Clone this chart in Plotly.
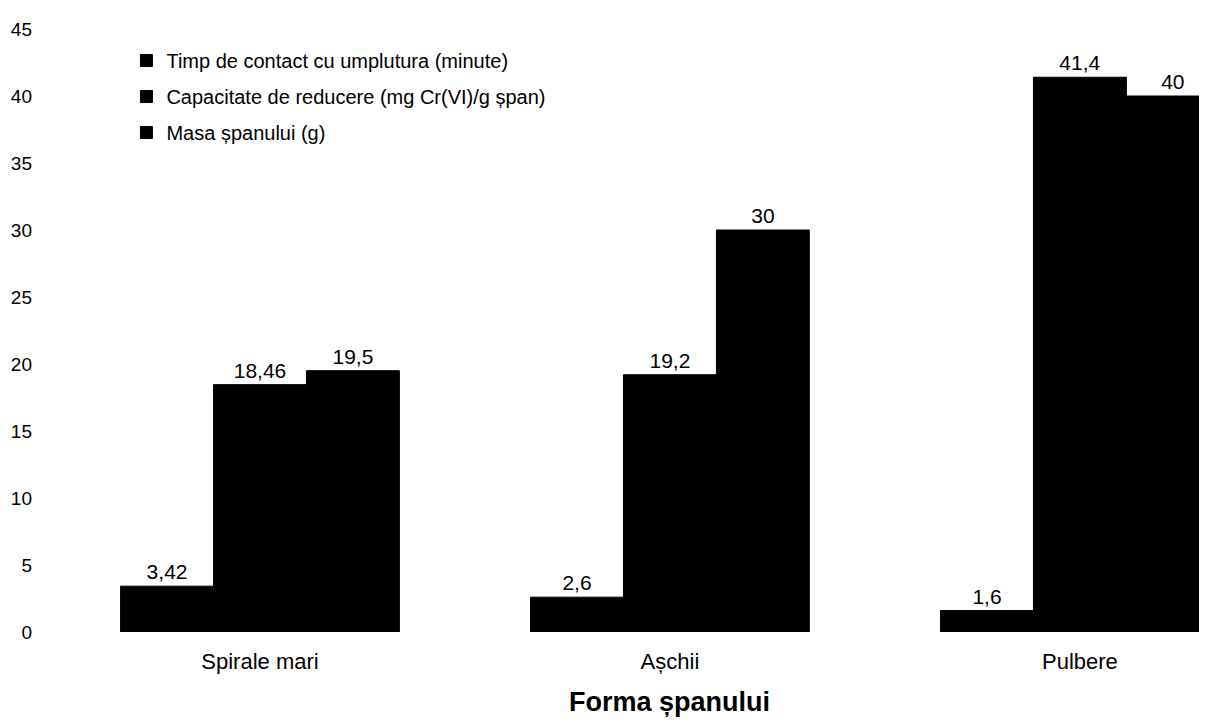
import plotly.graph_objects as go

categorii = ["Spirale mari", "Așchii", "Pulbere"]
timp_contact = [3.42, 2.6, 1.6]
capacitate = [18.46, 19.2, 41.4]
masa = [19.5, 30, 40]

serii = [
    ("Timp de contact cu umplutura (minute)", timp_contact),
    ("Capacitate de reducere (mg Cr(VI)/g șpan)", capacitate),
    ("Masa șpanului (g)", masa),
]

font = "Liberation Sans, Arial, sans-serif"

fig = go.Figure()
for i, (nume, valori) in enumerate(serii):
    fig.add_trace(
        go.Bar(
            x=categorii,
            y=valori,
            name=nume,
            legendgroup=str(i),
            marker_color="black",
            marker_line=dict(color="black", width=1),
            text=[str(v).replace(".", ",") for v in valori],
            textposition="outside",
            textfont=dict(family=font, size=21, color="black"),
            cliponaxis=False,
        )
    )

# pagina are o margine de 8px in jurul graficului
fig.update_layout(
    width=1199,
    height=716,
    margin=dict(l=47, r=0, t=21, b=92),
    paper_bgcolor="white",
    plot_bgcolor="white",
    barmode="group",
    bargap=0.32,
    bargroupgap=0,
    font=dict(family=font, size=19, color="black"),
    showlegend=True,
    legend=dict(
        x=0.062,
        y=0.98,
        xanchor="left",
        yanchor="top",
        bgcolor="rgba(0,0,0,0)",
        font=dict(family=font, size=20, color="black"),
        traceorder="grouped",
        tracegroupgap=7,
        itemwidth=30,
    ),
    xaxis=dict(
        range=[-0.5, 2.31],
        showline=False,
        showgrid=False,
        ticks="",
        ticklabelstandoff=14,
        tickfont=dict(family=font, size=22),
    ),
    yaxis=dict(
        range=[0, 45],
        dtick=5,
        showline=False,
        showgrid=False,
        zeroline=False,
        ticks="",
        ticklabelstandoff=22,
        tickfont=dict(family=font, size=19),
    ),
    annotations=[
        dict(
            text="<b>Forma șpanului</b>",
            x="Așchii",
            xref="x",
            y=-0.116,
            yref="paper",
            yanchor="middle",
            showarrow=False,
            font=dict(family=font, size=27, color="black"),
        )
    ],
)

fig.write_html("out.html")
